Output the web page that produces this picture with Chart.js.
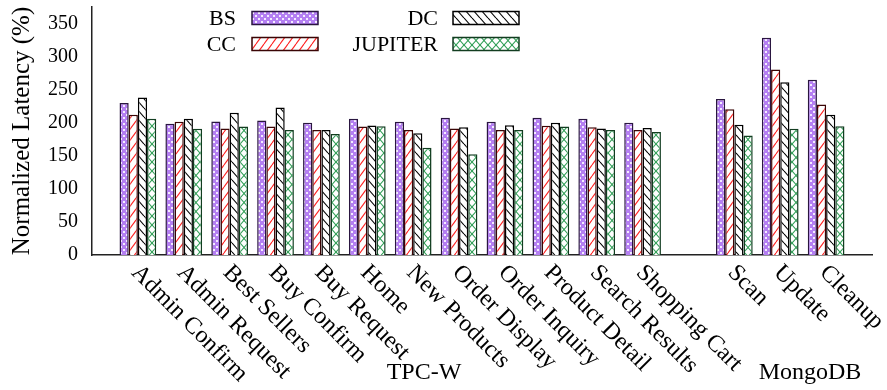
<!DOCTYPE html>
<html>
<head>
<meta charset="utf-8">
<script src="https://cdn.jsdelivr.net/npm/chart.js@4.4.1/dist/chart.umd.min.js"></script>
<style>
  html, body { margin: 0; padding: 0; background: #fff; }
  canvas { display: block; }
</style>
</head>
<body>
<canvas id="chart" width="887" height="390"></canvas>
<script>
// categories
const tpcwCategories = ["Admin Confirm", "Admin Request", "Best Sellers", "Buy Confirm", "Buy Request", "Home",
  "New Products", "Order Display", "Order Inquiry", "Product Detail", "Search Results", "Shopping Cart"];
const mongoCategories = ["Scan", "Update", "Cleanup"];

// normalized latency (%), TPC-W first then MongoDB
const bsValues = [230.5, 198.9, 202.5, 204.0, 200.4, 206.6, 202.0, 208.1, 202.0, 208.1, 206.6, 200.4, 236.7, 329.3, 265.8];
const ccValues = [212.7, 202.0, 191.7, 194.8, 189.7, 194.8, 189.7, 191.7, 189.7, 195.8, 193.8, 189.7, 220.9, 281.1, 228.1];
const dcValues = [238.8, 206.6, 215.8, 223.5, 189.7, 196.3, 184.6, 193.8, 196.8, 200.4, 191.7, 192.7, 197.3, 261.8, 212.7];
const jupiterValues = [206.6, 191.3, 194.8, 189.7, 183.6, 195.3, 162.6, 152.9, 189.7, 194.8, 189.7, 186.6, 181.0, 191.3, 195.3];

const yTicks = [0, 50, 100, 150, 200, 250, 300, 350];

const SERIF = '"Liberation Serif", "Times New Roman", serif';

// empty slots: one before, one between the two suites, one after
const labels = ["", ...tpcwCategories, "", ...mongoCategories, ""];
const n = tpcwCategories.length;
const pad = (v) => [null, ...v.slice(0, n), null, ...v.slice(n), null];

// fill patterns
function makePattern(w, h, draw) {
  const c = document.createElement("canvas");
  c.width = w; c.height = h;
  const g = c.getContext("2d");
  draw(g, w, h);
  return g.createPattern(c, "repeat");
}

function slash(g, w, h, color, back) {
  g.strokeStyle = color;
  g.lineWidth = 1.1;
  for (let k = -1; k <= 1; k++) {
    g.beginPath();
    if (back) { g.moveTo(k * w, 0); g.lineTo(k * w + w, h); }
    else { g.moveTo(k * w, h); g.lineTo(k * w + w, 0); }
    g.stroke();
  }
}

const bsPattern = makePattern(6, 6, (g) => {
  g.fillStyle = "#b47ff2";
  g.fillRect(0, 0, 6, 6);
  g.fillStyle = "#f4ecff";
  g.fillRect(0, 0, 2, 2);
  g.fillRect(3, 3, 2, 2);
});
const ccPattern = makePattern(8, 11, (g, w, h) => {
  g.fillStyle = "#fff"; g.fillRect(0, 0, w, h);
  slash(g, w, h, "#ff2020", false);
});
const dcPattern = makePattern(8, 9, (g, w, h) => {
  g.fillStyle = "#fff"; g.fillRect(0, 0, w, h);
  slash(g, w, h, "#000000", true);
});
const jupiterPattern = makePattern(8, 9, (g, w, h) => {
  g.fillStyle = "#fff"; g.fillRect(0, 0, w, h);
  slash(g, w, h, "#2f9e55", true);
  slash(g, w, h, "#2f9e55", false);
});

// legend, rotated category labels and suite names
const sketchLabels = {
  id: "sketchLabels",
  afterDraw(chart) {
    const ctx = chart.ctx;
    const x = chart.scales.x;
    const base = chart.chartArea.bottom;
    ctx.save();
    ctx.fillStyle = "#000";

    ctx.font = "24px " + SERIF;
    ctx.textAlign = "left";
    ctx.textBaseline = "middle";
    chart.data.labels.forEach((lab, i) => {
      if (!lab) return;
      ctx.save();
      ctx.translate(x.getPixelForValue(i) - 3, base + 14);
      ctx.rotate(Math.PI / 4);
      ctx.fillText(lab, 0, 0);
      ctx.restore();
    });

    ctx.textAlign = "center";
    ctx.fillText("TPC-W", 424, 373);
    ctx.fillText("MongoDB", 810, 373);

    ctx.font = "22px " + SERIF;
    ctx.textAlign = "right";
    const textRight = [236, 438];
    const swatchLeft = [252, 453];
    const rowY = [18, 44];
    chart.data.datasets.forEach((ds, i) => {
      const col = Math.floor(i / 2), row = i % 2;
      ctx.fillStyle = "#000";
      ctx.fillText(ds.label, textRight[col], rowY[row] + 1);
      ctx.fillStyle = ds.backgroundColor;
      ctx.fillRect(swatchLeft[col], rowY[row] - 6.5, 66, 13);
      ctx.strokeStyle = ds.borderColor;
      ctx.lineWidth = 1.5;
      ctx.strokeRect(swatchLeft[col], rowY[row] - 6.5, 66, 13);
    });
    ctx.restore();
  }
};

new Chart(document.getElementById("chart"), {
  type: "bar",
  data: {
    labels: labels,
    datasets: [
      { label: "BS", data: pad(bsValues), backgroundColor: bsPattern, borderColor: "#2a1640", borderWidth: 1.5 },
      { label: "CC", data: pad(ccValues), backgroundColor: ccPattern, borderColor: "#3a0505", borderWidth: 1.5 },
      { label: "DC", data: pad(dcValues), backgroundColor: dcPattern, borderColor: "#000000", borderWidth: 1.5 },
      { label: "JUPITER", data: pad(jupiterValues), backgroundColor: jupiterPattern, borderColor: "#123d20", borderWidth: 1.5 },
    ],
  },
  options: {
    responsive: false,
    animation: false,
    devicePixelRatio: 1,
    layout: { padding: { left: 0, right: 15, top: 7, bottom: 135 } },
    datasets: { bar: { categoryPercentage: 0.8, barPercentage: 1.0 } },
    plugins: { legend: { display: false }, tooltip: { enabled: false } },
    scales: {
      x: {
        offset: false,
        grid: { display: false, drawTicks: false },
        border: { display: true, color: "#222", width: 1.5 },
        ticks: { display: false },
      },
      y: {
        min: 0,
        max: 376,
        afterFit: (s) => { s.width = 92; s.paddingTop = 0; s.paddingBottom = 0; },
        afterBuildTicks: (s) => { s.ticks = yTicks.map((v) => ({ value: v })); },
        grid: { display: false, drawTicks: false },
        border: { display: true, color: "#222", width: 1.5 },
        ticks: { color: "#000", font: { family: SERIF, size: 20 }, padding: 14 },
        title: {
          display: true,
          text: "Normalized Latency (%)",
          color: "#000",
          font: { family: SERIF, size: 25 },
          padding: { top: 7, bottom: 0 },
        },
      },
    },
  },
  plugins: [sketchLabels],
});
</script>
</body>
</html>
